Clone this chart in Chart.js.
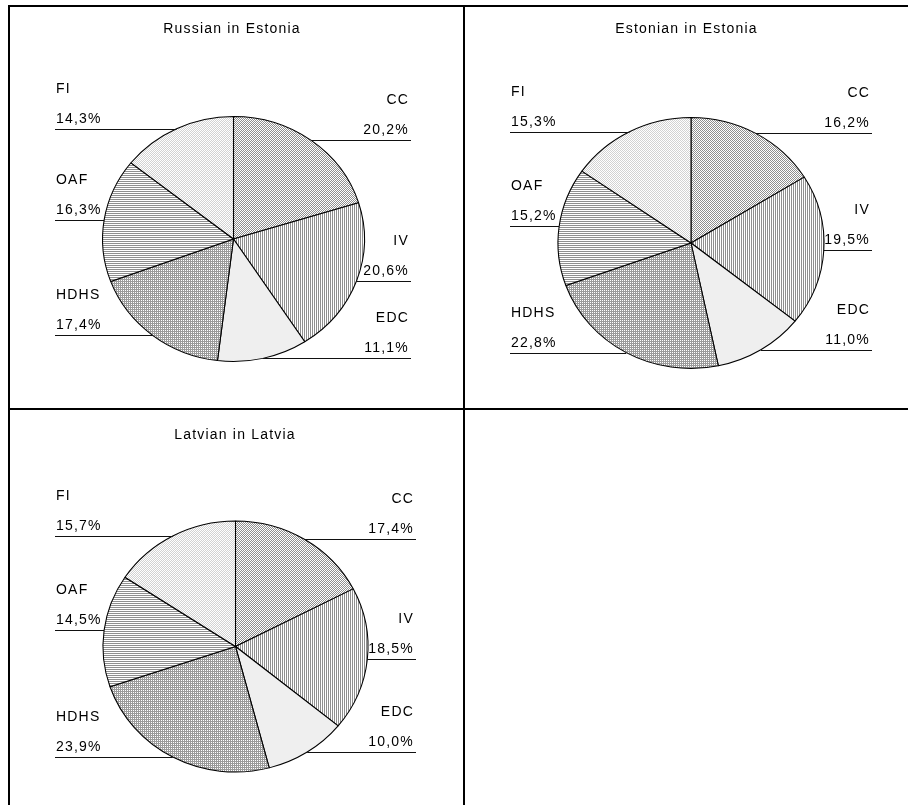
<!DOCTYPE html>
<html>
<head>
<meta charset="utf-8">
<script src="https://cdn.jsdelivr.net/npm/chart.js@4/dist/chart.umd.min.js"></script>
<style>
    body { margin: 0; background: #fff; }
    #wrap { position: relative; width: 908px; height: 805px; overflow: hidden; }
    canvas { position: absolute; }
    .ln { position: absolute; background: #000; }
</style>
</head>
<body>
<div id="wrap">
    <canvas id="c1" width="455" height="404" style="left:8px;top:5px"></canvas>
    <canvas id="c2" width="445" height="404" style="left:463px;top:5px"></canvas>
    <canvas id="c3" width="455" height="396" style="left:8px;top:409px"></canvas>
    <div class="ln" style="left:8px;top:5px;width:900px;height:2px"></div>
    <div class="ln" style="left:8px;top:5px;width:2px;height:800px"></div>
    <div class="ln" style="left:8px;top:408px;width:900px;height:2px"></div>
    <div class="ln" style="left:463px;top:5px;width:2px;height:800px"></div>
</div>
<script>
// data (percent)
const categories = ["CC", "IV", "EDC", "HDHS", "OAF", "FI"];
const russianInEstonia = [20.2, 20.6, 11.1, 17.4, 16.3, 14.3];
const estonianInEstonia = [16.2, 19.5, 11.0, 22.8, 15.2, 15.3];
const latvianInLatvia = [17.4, 18.5, 10.0, 23.9, 14.5, 15.7];
const titles = ["Russian in Estonia", "Estonian in Estonia", "Latvian in Latvia"];

// where each pie sits inside its panel
const panels = [
    { id: "c1", values: russianInEstonia, cx: 225.5, cy: 234, r: 122.5, sx: 1.069, titleX: 224, titleY: 28, left: 47, right: 403 },
    { id: "c2", values: estonianInEstonia, cx: 228, cy: 238, r: 125.5, sx: 1.06, titleX: 223.5, titleY: 28, left: 47, right: 409 },
    { id: "c3", values: latvianInLatvia, cx: 227.5, cy: 237.5, r: 125.5, sx: 1.056, titleX: 227, titleY: 30, left: 47, right: 408 },
];

const fmt = (v) => v.toFixed(1).replace(".", ",") + "%";

// small pixel patterns like the old excel fills
const makePattern = (w, h, dots, dark, light) => {
    const c = document.createElement("canvas");
    c.width = w;
    c.height = h;
    const g = c.getContext("2d");
    g.fillStyle = light;
    g.fillRect(0, 0, w, h);
    g.fillStyle = dark;
    dots.forEach(([x, y]) => g.fillRect(x, y, 1, 1));
    return g.createPattern(c, "repeat");
};

const makeFills = () => [
    makePattern(2, 2, [[0, 0], [1, 1]], "#8f8f8f", "#fff"),          // CC
    makePattern(2, 1, [[0, 0]], "#8f8f8f", "#fff"),                  // IV
    "#efefef",                                                       // EDC
    makePattern(2, 2, [[0, 0], [1, 0], [0, 1]], "#9a9a9a", "#fff"),  // HDHS
    makePattern(1, 2, [[0, 0]], "#8f8f8f", "#fff"),                  // OAF
    makePattern(2, 2, [[0, 0], [1, 1]], "#d2d2d2", "#fff"),          // FI
];

const piePlugin = {
    id: "ellipsePie",
    beforeDatasetsDraw(chart, args, opts) {
        const arc = chart.getDatasetMeta(0).data[0];
        const ctx = chart.ctx;
        ctx.save();
        ctx.translate(arc.x, 0);
        ctx.scale(opts.sx, 1);
        ctx.translate(-arc.x, 0);
        // undo the stretch for the fills so the pixels stay crisp
        const c = arc.x * (1 - opts.sx);
        opts.fills.forEach((p) => {
            if (p instanceof CanvasPattern) {
                p.setTransform(new DOMMatrix().translate(-c / opts.sx, 0).scale(1 / opts.sx, 1));
            }
        });
    },
    afterDatasetsDraw(chart) {
        chart.ctx.restore();
    },
    afterDraw(chart, args, opts) {
        const ctx = chart.ctx;
        const meta = chart.getDatasetMeta(0);
        ctx.save();
        ctx.font = '14px "Liberation Sans", Arial, sans-serif';
        ctx.letterSpacing = "1.2px";
        ctx.fillStyle = "#000";
        ctx.textAlign = "center";
        ctx.fillText(opts.title, opts.titleX, opts.titleY);

        ctx.strokeStyle = "#111";
        ctx.lineWidth = 1;
        meta.data.forEach((arc, i) => {
            const mid = (arc.startAngle + arc.endAngle) / 2;
            const px = arc.x + opts.sx * arc.outerRadius * Math.cos(mid);
            const py = arc.y + arc.outerRadius * Math.sin(mid);
            const ly = Math.round(py) + 0.5;
            const right = Math.cos(mid) > 0;
            ctx.beginPath();
            if (right) {
                ctx.moveTo(px, ly);
                ctx.lineTo(opts.right, ly);
            } else {
                ctx.moveTo(opts.left, ly);
                ctx.lineTo(px, ly);
            }
            ctx.stroke();

            ctx.textAlign = right ? "right" : "left";
            const tx = right ? opts.right - 2 : opts.left + 1;
            ctx.fillText(fmt(chart.data.datasets[0].data[i]), tx, ly - 7);
            ctx.fillText(chart.data.labels[i], tx, ly - 37);
        });
        ctx.restore();
    },
};

panels.forEach((p, k) => {
    const canvas = document.getElementById(p.id);
    const fills = makeFills();
    new Chart(canvas.getContext("2d"), {
        type: "pie",
        data: {
            labels: categories,
            datasets: [
                {
                    data: p.values,
                    backgroundColor: fills,
                    borderColor: "#000",
                    borderWidth: 1,
                    hoverOffset: 0,
                    radius: p.r,
                },
            ],
        },
        options: {
            responsive: false,
            devicePixelRatio: 1,
            animation: false,
            events: [],
            layout: {
                padding: {
                    left: p.cx - p.r,
                    right: canvas.width - p.cx - p.r,
                    top: p.cy - p.r,
                    bottom: canvas.height - p.cy - p.r,
                },
            },
            plugins: {
                legend: { display: false },
                tooltip: { enabled: false },
                ellipsePie: {
                    sx: p.sx,
                    fills: fills,
                    title: titles[k],
                    titleX: p.titleX,
                    titleY: p.titleY,
                    left: p.left,
                    right: p.right,
                },
            },
        },
        plugins: [piePlugin],
    });
});
</script>
</body>
</html>
